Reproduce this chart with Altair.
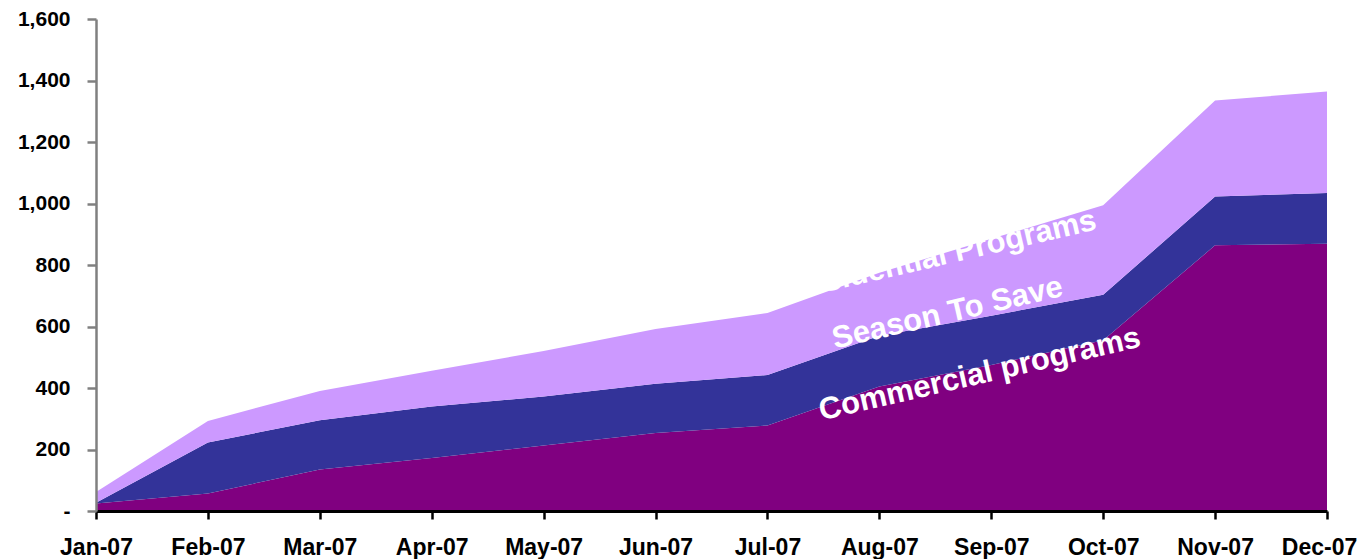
import json
import altair as alt
import pandas as pd

months = ["Jan-07", "Feb-07", "Mar-07", "Apr-07", "May-07", "Jun-07",
          "Jul-07", "Aug-07", "Sep-07", "Oct-07", "Nov-07", "Dec-07"]
series_names = ["Commercial programs", "Season To Save", "Residential Programs"]
commercial = [24, 57, 135, 172, 213, 254, 278, 405, 475, 555, 864, 869]
season_to_save = [3, 166, 160, 168, 159, 160, 164, 165, 160, 148, 159, 165]
residential = [35, 70, 95, 116, 148, 178, 202, 205, 250, 291, 312, 330]
series_colors = ["#800080", "#333399", "#CC99FF"]

# in-chart series labels, anchored in data units (month index, value)
label_text = ["Commercial programs", "Season To Save", "Residential Programs"]
label_month_pos = [7.915, 7.627, 7.565]
label_value_pos = [415, 614, 800]

rows = []
for k, vals in enumerate([commercial, season_to_save, residential]):
    for i, v in enumerate(vals):
        rows.append({"idx": i, "month": months[i], "series": series_names[k],
                     "order": k, "value": v})
df = pd.DataFrame(rows)
labels_df = pd.DataFrame({"text": label_text, "idx": label_month_pos,
                          "value": label_value_pos})

FONT = "Liberation Sans, Arial, sans-serif"
month_expr = json.dumps(months).replace('"', "'") + "[datum.value]"

x_scale = alt.Scale(domain=[0, 11], nice=False, zero=False)
y_scale = alt.Scale(domain=[0, 1600], nice=False)

area = alt.Chart(df).mark_area(opacity=1).encode(
    x=alt.X("idx:Q", scale=x_scale,
            axis=alt.Axis(title=None, values=list(range(12)), labelExpr=month_expr,
                          grid=False, domainColor="#000000", domainWidth=3,
                          tickColor="#000000", tickWidth=2.5, tickSize=8,
                          labelFont=FONT, labelFontWeight="bold", labelFontSize=23,
                          labelColor="#000000", labelPadding=17, labelFlush=False,
                          labelOffset={"expr": "datum.value == 11 ? -8 : 0"},
                          labelOverlap=False, zindex=1)),
    y=alt.Y("value:Q", stack="zero", scale=y_scale,
            axis=alt.Axis(title=None, values=list(range(0, 1601, 200)),
                          labelExpr="datum.value == 0 ? '-' : format(datum.value, ',')",
                          grid=False, domainColor="#808080", domainWidth=2.5,
                          tickColor="#808080", tickWidth=2.5, tickSize=9,
                          labelFont=FONT, labelFontWeight="bold", labelFontSize=21,
                          labelColor="#000000", labelPadding=17, zindex=1)),
    color=alt.Color("series:N", scale=alt.Scale(domain=series_names, range=series_colors),
                    legend=None),
    order=alt.Order("order:Q"),
)

texts = alt.Chart(labels_df).mark_text(
    font=FONT, fontWeight="bold", fontSize=31, color="#FFFFFF",
    angle=347, align="center", baseline="alphabetic",
).encode(
    x=alt.X("idx:Q", scale=x_scale),
    y=alt.Y("value:Q", scale=y_scale),
    text="text:N",
)

chart = alt.layer(area, texts).properties(
    width=1231, height=492,
    autosize=alt.AutoSizeParams(type="none"),
    padding={"left": 88, "top": 11, "right": 32, "bottom": 48},
    background="#FFFFFF",
).configure_view(strokeWidth=0)

chart.save("out.html", embed_options={"renderer": "svg", "actions": False})
